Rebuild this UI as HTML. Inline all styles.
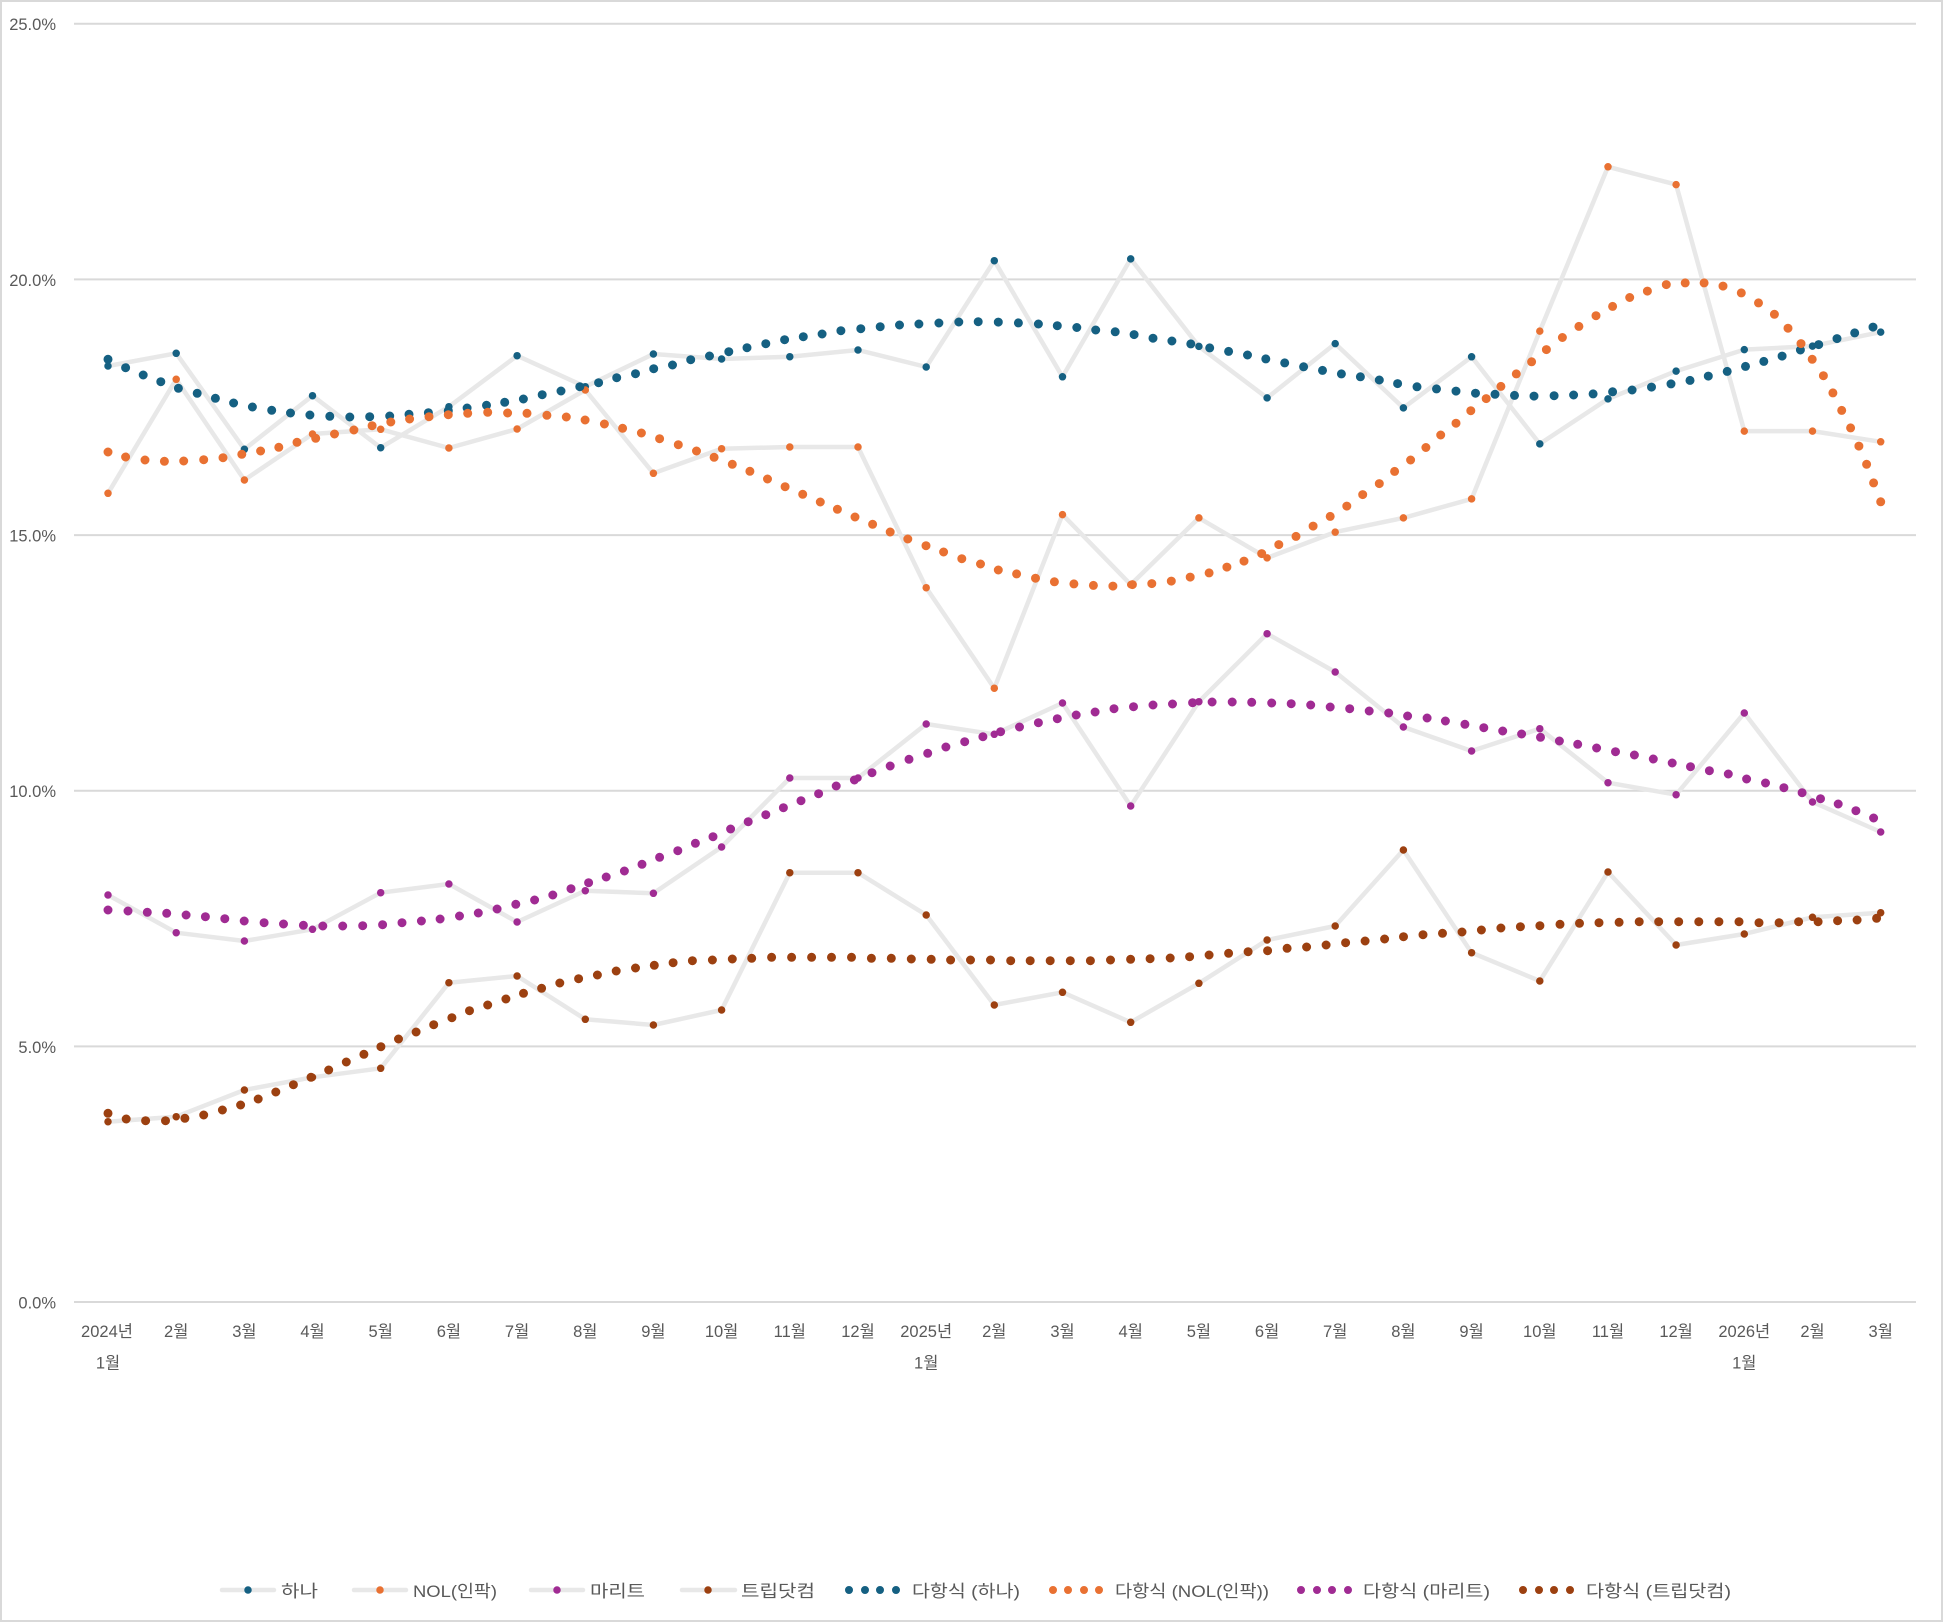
<!DOCTYPE html>
<html><head><meta charset="utf-8">
<style>
html,body{margin:0;padding:0;background:#fff;}
svg{display:block;}
text{font-family:"Liberation Sans","Noto Sans CJK KR",sans-serif;fill:#595959;}
</style></head>
<body>
<svg width="1943" height="1622" viewBox="0 0 1943 1622" xmlns="http://www.w3.org/2000/svg">
<rect x="1" y="1" width="1941" height="1620" fill="#fff" stroke="#d9d9d9" stroke-width="2"/>
<!-- gridlines -->
<g stroke="#d9d9d9" stroke-width="2">
<line x1="74" y1="23.7" x2="1916" y2="23.7"/>
<line x1="74" y1="279.4" x2="1916" y2="279.4"/>
<line x1="74" y1="535.1" x2="1916" y2="535.1"/>
<line x1="74" y1="790.7" x2="1916" y2="790.7"/>
<line x1="74" y1="1046.4" x2="1916" y2="1046.4"/>
<line x1="74" y1="1302" x2="1916" y2="1302"/>
</g>
<!-- y labels -->
<g font-size="16.5" text-anchor="end">
<text x="56" y="30.2">25.0%</text>
<text x="56" y="285.9">20.0%</text>
<text x="56" y="541.6">15.0%</text>
<text x="56" y="797.2">10.0%</text>
<text x="56" y="1052.9">5.0%</text>
<text x="56" y="1308.5">0.0%</text>
</g>
<!-- x labels -->
<g font-size="16.5" text-anchor="middle">
<text x="107" y="1337">2024년</text><text x="108" y="1368.5">1월</text>
<text x="176.2" y="1337">2월</text>
<text x="244.4" y="1337">3월</text>
<text x="312.5" y="1337">4월</text>
<text x="380.7" y="1337">5월</text>
<text x="448.9" y="1337">6월</text>
<text x="517.1" y="1337">7월</text>
<text x="585.3" y="1337">8월</text>
<text x="653.4" y="1337">9월</text>
<text x="721.6" y="1337">10월</text>
<text x="789.8" y="1337">11월</text>
<text x="858" y="1337">12월</text>
<text x="926.2" y="1337">2025년</text><text x="926.2" y="1368.5">1월</text>
<text x="994.3" y="1337">2월</text>
<text x="1062.5" y="1337">3월</text>
<text x="1130.7" y="1337">4월</text>
<text x="1198.9" y="1337">5월</text>
<text x="1267.1" y="1337">6월</text>
<text x="1335.2" y="1337">7월</text>
<text x="1403.4" y="1337">8월</text>
<text x="1471.6" y="1337">9월</text>
<text x="1539.8" y="1337">10월</text>
<text x="1608" y="1337">11월</text>
<text x="1676.1" y="1337">12월</text>
<text x="1744.3" y="1337">2026년</text><text x="1744.3" y="1368.5">1월</text>
<text x="1812.5" y="1337">2월</text>
<text x="1880.7" y="1337">3월</text>
</g>
<!-- gray series lines -->
<g fill="none" stroke="#e8e8e8" stroke-width="4.5" stroke-linejoin="round">
<polyline points="108,366 176.2,353.3 244.4,449.3 312.5,395.7 380.7,447.7 448.9,406.7 517.1,355.7 585.3,386.7 653.4,354 721.6,359 789.8,356.7 858,350 926.2,367 994.3,260.7 1062.5,376.8 1130.7,258.9 1198.9,346.4 1267.1,397.9 1335.2,343.6 1403.4,407.9 1471.6,356.8 1539.8,443.9 1608,398.9 1676.1,371.1 1744.3,349.6 1812.5,346.1 1880.7,332.1"/>
<polyline points="108,493.3 176.2,379.3 244.4,480 312.5,434 380.7,429.3 448.9,448 517.1,429 585.3,390 653.4,473.3 721.6,448.7 789.8,447 858,447 926.2,587.7 994.3,688.2 1062.5,514.6 1130.7,584.6 1198.9,517.9 1267.1,557.9 1335.2,532.1 1403.4,517.9 1471.6,498.9 1539.8,331.1 1608,166.8 1676.1,184.6 1744.3,431.1 1812.5,431.1 1880.7,441.8"/>
<polyline points="108,895 176.2,932.7 244.4,941 312.5,929.3 380.7,892.7 448.9,884 517.1,922 585.3,890.7 653.4,893.3 721.6,847 789.8,778 858,778 926.2,724 994.3,734.3 1062.5,703 1130.7,806 1198.9,701.7 1267.1,633.7 1335.2,672 1403.4,727 1471.6,751 1539.8,728.7 1608,782.7 1676.1,794.7 1744.3,713 1812.5,802 1880.7,832"/>
<polyline points="108,1121.7 176.2,1116.7 244.4,1090 312.5,1077.3 380.7,1068.3 448.9,982.7 517.1,976 585.3,1019.3 653.4,1025 721.6,1010 789.8,872.7 858,872.7 926.2,915 994.3,1005 1062.5,992.3 1130.7,1022.3 1198.9,983.3 1267.1,940 1335.2,926 1403.4,850 1471.6,952.7 1539.8,981 1608,872 1676.1,945 1744.3,934 1812.5,917.3 1880.7,912.7"/>
</g>
<!-- data markers -->
<g fill="none" stroke-linecap="round" stroke-width="7.5">
<path stroke="#156082" d="M108 366h0M176.2 353.3h0M244.4 449.3h0M312.5 395.7h0M380.7 447.7h0M448.9 406.7h0M517.1 355.7h0M585.3 386.7h0M653.4 354h0M721.6 359h0M789.8 356.7h0M858 350h0M926.2 367h0M994.3 260.7h0M1062.5 376.8h0M1130.7 258.9h0M1198.9 346.4h0M1267.1 397.9h0M1335.2 343.6h0M1403.4 407.9h0M1471.6 356.8h0M1539.8 443.9h0M1608 398.9h0M1676.1 371.1h0M1744.3 349.6h0M1812.5 346.1h0M1880.7 332.1h0"/>
<path stroke="#e97132" d="M108 493.3h0M176.2 379.3h0M244.4 480h0M312.5 434h0M380.7 429.3h0M448.9 448h0M517.1 429h0M585.3 390h0M653.4 473.3h0M721.6 448.7h0M789.8 447h0M858 447h0M926.2 587.7h0M994.3 688.2h0M1062.5 514.6h0M1130.7 584.6h0M1198.9 517.9h0M1267.1 557.9h0M1335.2 532.1h0M1403.4 517.9h0M1471.6 498.9h0M1539.8 331.1h0M1608 166.8h0M1676.1 184.6h0M1744.3 431.1h0M1812.5 431.1h0M1880.7 441.8h0"/>
<path stroke="#a02b93" d="M108 895h0M176.2 932.7h0M244.4 941h0M312.5 929.3h0M380.7 892.7h0M448.9 884h0M517.1 922h0M585.3 890.7h0M653.4 893.3h0M721.6 847h0M789.8 778h0M858 778h0M926.2 724h0M994.3 734.3h0M1062.5 703h0M1130.7 806h0M1198.9 701.7h0M1267.1 633.7h0M1335.2 672h0M1403.4 727h0M1471.6 751h0M1539.8 728.7h0M1608 782.7h0M1676.1 794.7h0M1744.3 713h0M1812.5 802h0M1880.7 832h0"/>
<path stroke="#9c4010" d="M108 1121.7h0M176.2 1116.7h0M244.4 1090h0M312.5 1077.3h0M380.7 1068.3h0M448.9 982.7h0M517.1 976h0M585.3 1019.3h0M653.4 1025h0M721.6 1010h0M789.8 872.7h0M858 872.7h0M926.2 915h0M994.3 1005h0M1062.5 992.3h0M1130.7 1022.3h0M1198.9 983.3h0M1267.1 940h0M1335.2 926h0M1403.4 850h0M1471.6 952.7h0M1539.8 981h0M1608 872h0M1676.1 945h0M1744.3 934h0M1812.5 917.3h0M1880.7 912.7h0"/>
</g>
<!-- trendlines (round dots) -->
<g fill="none" stroke-linecap="round" stroke-width="9">
<path stroke="#156082" d="M108 359.3h0M125.6 367.7h0M143.2 375h0M160.8 381.7h0M178.4 388.3h0M197.2 393.3h0M215.4 398.3h0M233.6 403h0M252.4 407h0M271.7 410.3h0M290.5 413h0M309.9 415h0M329.8 416.3h0M349.8 417h0M369.7 416.7h0M389.7 416h0M409 414.3h0M428.4 412.7h0M448.3 410.7h0M467.1 408h0M486.5 405.3h0M504.7 402.3h0M523.4 399h0M542.2 394.7h0M561 391h0M579.8 386.7h0M598.6 382.7h0M616.7 377.7h0M635.5 373.7h0M653.7 368.7h0M672.5 365h0M690.7 359.7h0M709.5 356h0M728.8 351.7h0M747 347.7h0M765.8 343.7h0M784.6 339.7h0M803.3 336.7h0M822.1 334h0M840.9 330.7h0M860.8 328.7h0M880.2 326.7h0M899.5 325h0M918.9 324h0M938.9 323h0M958.8 322h0M978.2 321.7h0M998.3 322.1h0M1018.4 322.9h0M1038.4 324h0M1057.3 325.7h0M1076.8 327.5h0M1095.7 330h0M1115.2 331.8h0M1134.1 334.6h0M1153 338.2h0M1171.9 341h0M1190.8 343.9h0M1209.7 347.9h0M1228.6 351.4h0M1247.5 355h0M1265.8 358.9h0M1284.7 362.9h0M1303.6 366.8h0M1322.5 370.4h0M1341.4 373.9h0M1360.4 376.8h0M1379.3 380h0M1397.6 383.6h0M1417 386.8h0M1436.5 388.9h0M1456 391.1h0M1475.5 393.2h0M1495 394.3h0M1514.5 395.4h0M1534 396.1h0M1554.1 395.7h0M1573.6 395h0M1593.1 393.9h0M1612.6 391.8h0M1632.1 390h0M1651.5 387.1h0M1671 383.9h0M1690 380.4h0M1708.3 376.1h0M1727.2 371.4h0M1745.5 366.4h0M1763.8 361.4h0M1782.1 356.1h0M1800.4 350h0M1818.7 344.6h0M1837 338.6h0M1854.7 332.9h0M1873 327.1h0"/>
<path stroke="#e97132" d="M108 452h0M125.6 457h0M145 460h0M164.4 461.3h0M183.7 461h0M203.7 459.7h0M223 457.7h0M241.8 454.3h0M260.6 451h0M278.8 447.3h0M297 442.3h0M315.7 438.3h0M334.5 434h0M353.9 430h0M372.1 425.7h0M390.8 422h0M409.6 419h0M429 416.7h0M448.3 414.7h0M467.7 413.3h0M487.7 412.3h0M507.6 413h0M527 413.3h0M546.9 415.3h0M566.3 417h0M585.1 420h0M604.4 424h0M622.6 428.3h0M641.4 433h0M659.6 438.7h0M678.3 444.7h0M696.5 451h0M714.1 457.3h0M732.3 464.3h0M749.9 471.3h0M767.5 479h0M785.1 486.7h0M802.7 494.3h0M820.3 502h0M837.4 509.3h0M855 517h0M872.6 524.3h0M890.2 532h0M907.8 539h0M926 545.7h0M943.6 552h0M961.8 558.7h0M980.5 564h0M998.3 570h0M1016.6 573.9h0M1035.5 578.2h0M1054.4 581.8h0M1073.9 583.9h0M1093.4 585.4h0M1112.9 586.1h0M1132.4 584.6h0M1151.8 583.6h0M1171.3 581.1h0M1190.2 577.1h0M1209.1 572.9h0M1226.9 567.1h0M1244 561.1h0M1261.7 553.6h0M1278.8 544.6h0M1296 536.4h0M1313.1 526.1h0M1330.2 516.4h0M1346.8 506.1h0M1362.7 494.6h0M1379.3 483.6h0M1394.6 471.4h0M1410.6 460h0M1425.9 447.5h0M1440.7 435h0M1456 423.2h0M1470.8 410.7h0M1486.2 398.6h0M1500.9 386.4h0M1516.3 373.9h0M1531.6 361.8h0M1546.4 349.6h0M1562.4 337.5h0M1578.9 326.4h0M1596 315.7h0M1612.6 306.4h0M1629.7 297.5h0M1647.4 291.1h0M1666.3 284.6h0M1685.2 282.9h0M1704.1 282.9h0M1723 286.1h0M1741.3 292.9h0M1758.5 302.9h0M1774.4 314.3h0M1788 328.2h0M1801 343.6h0M1812.2 359.3h0M1823.4 375.7h0M1832.9 392.9h0M1841.7 410.4h0M1850.6 427.9h0M1858.9 446.1h0M1866.6 464.3h0M1873.6 482.9h0M1880.7 501.8h0"/>
<path stroke="#a02b93" d="M108 910h0M128 911h0M147.3 912.3h0M166.7 913.3h0M186.1 915h0M205.4 916.7h0M224.8 918.7h0M244.2 921h0M264.1 922.7h0M283.5 924h0M303.4 925.3h0M322.8 926h0M342.7 926h0M362.7 925.7h0M382.6 924.7h0M402 922.7h0M421.4 921h0M440.1 919h0M459.5 916h0M478.3 913h0M497.1 909h0M515.8 904.3h0M534.6 900h0M552.8 895h0M571 888.7h0M588.6 882.7h0M606.2 877h0M624.4 871h0M642 864.3h0M659.6 857.3h0M677.8 850.7h0M695.4 843.3h0M713 836.7h0M730.6 829h0M748.2 821.7h0M765.8 814.7h0M783.4 807.7h0M801 800.7h0M818.6 793.7h0M836.2 786h0M854.4 780h0M872 772.7h0M890.2 766h0M909 759.3h0M927.7 753.3h0M945.9 747h0M964.7 741.7h0M982.9 736.7h0M1000.6 731.7h0M1019.5 727h0M1038.4 722.7h0M1057.3 718.7h0M1076.2 715h0M1095.1 712h0M1114 708.7h0M1133.5 706.7h0M1153 705h0M1172.5 704h0M1192.6 702.7h0M1212.1 702h0M1232.2 702h0M1251.7 702.3h0M1271.7 703h0M1291.2 703.7h0M1310.7 705h0M1330.2 707h0M1349.7 708.7h0M1369.2 711h0M1388.7 713h0M1407.6 716h0M1427.1 718h0M1445.4 721h0M1464.9 724.3h0M1483.8 727.7h0M1502.7 731h0M1521.6 734h0M1540.5 737.3h0M1559.4 741h0M1577.7 744.3h0M1596.6 748h0M1615.5 751.7h0M1634.4 755h0M1653.3 759h0M1672.2 763h0M1690.5 766.7h0M1709.4 770.7h0M1728.3 774h0M1746.6 779h0M1765.5 783h0M1783.9 787.7h0M1802.1 792.7h0M1820.5 798.7h0M1838.2 804h0M1855.9 810.7h0M1873.6 818h0"/>
<path stroke="#9c4010" d="M108 1113.3h0M126.2 1119h0M145.6 1120.7h0M165.5 1120.7h0M184.9 1118.3h0M203.7 1115h0M222.4 1110h0M240.6 1105h0M258.2 1099h0M275.8 1092h0M293.4 1084.7h0M311 1077.3h0M328.7 1070h0M346.3 1062h0M363.9 1054.3h0M380.9 1046.7h0M398.5 1039h0M416.1 1032h0M433.7 1024.7h0M451.9 1017.7h0M469.5 1010.7h0M487.7 1005h0M505.9 999h0M523.5 993.3h0M541.6 988.3h0M559.8 983h0M578.6 978.7h0M597.4 975h0M616.2 971h0M635.5 968h0M654.3 965.3h0M673.1 962.7h0M692.4 960.7h0M712.4 960h0M732.3 959h0M751.7 958.3h0M771.6 957.3h0M791.6 957.3h0M811.6 957.3h0M831.5 957.3h0M851.5 957.3h0M871.4 958.3h0M891.3 958.3h0M911.3 959h0M931.2 959.3h0M950.6 960h0M970.5 960h0M990.5 960h0M1010.7 960.7h0M1030.2 960.7h0M1050.2 960.7h0M1070.3 960.7h0M1090.4 960.7h0M1110.5 960h0M1130.6 959.3h0M1150.1 958.7h0M1170.2 958h0M1189.6 956.7h0M1209.1 955h0M1228.6 953.3h0M1248.1 951.7h0M1267.6 950.7h0M1287.1 948.3h0M1306.6 947h0M1326.1 945h0M1345.6 942.7h0M1365.1 941h0M1384.6 939h0M1403.5 936.7h0M1423 934.7h0M1442.5 933.3h0M1462 932h0M1481.4 930h0M1500.9 928h0M1520.4 926.7h0M1539.9 925.7h0M1560 924.3h0M1579.5 923.3h0M1599 922.7h0M1619.1 922.3h0M1639.2 921.7h0M1658.7 921.7h0M1678.7 921.7h0M1698.8 921.7h0M1718.9 921.7h0M1739 921.7h0M1759 922.7h0M1779.1 922.7h0M1798.6 921.7h0M1818.1 921.7h0M1837.6 920.7h0M1857.1 920h0M1876.6 918.3h0"/>
</g>
<!-- legend -->
<g stroke="#e8e8e8" stroke-width="4.5" stroke-linecap="round">
<line x1="222" y1="1590" x2="274" y2="1590"/>
<line x1="354" y1="1590" x2="406" y2="1590"/>
<line x1="531" y1="1590" x2="583" y2="1590"/>
<line x1="682" y1="1590" x2="735" y2="1590"/>
</g>
<g fill="none" stroke-linecap="round">
<path stroke="#156082" stroke-width="7.5" d="M248 1590h0"/>
<path stroke="#e97132" stroke-width="7.5" d="M380 1590h0"/>
<path stroke="#a02b93" stroke-width="7.5" d="M557 1590h0"/>
<path stroke="#9c4010" stroke-width="7.5" d="M708 1590h0"/>
<path stroke="#156082" stroke-width="8" d="M849 1590h0M865 1590h0M880 1590h0M896 1590h0"/>
<path stroke="#e97132" stroke-width="8" d="M1053 1590h0M1068 1590h0M1084 1590h0M1099 1590h0"/>
<path stroke="#a02b93" stroke-width="8" d="M1301 1590h0M1317 1590h0M1332 1590h0M1348 1590h0"/>
<path stroke="#9c4010" stroke-width="8" d="M1523 1590h0M1539 1590h0M1554 1590h0M1570 1590h0"/>
</g>
<g font-size="17">
<text x="281" y="1597" textLength="37" lengthAdjust="spacingAndGlyphs">하나</text>
<text x="413" y="1597" textLength="84" lengthAdjust="spacingAndGlyphs">NOL(인팍)</text>
<text x="590" y="1597" textLength="55" lengthAdjust="spacingAndGlyphs">마리트</text>
<text x="741" y="1597" textLength="74" lengthAdjust="spacingAndGlyphs">트립닷컴</text>
<text x="912" y="1597" textLength="108" lengthAdjust="spacingAndGlyphs">다항식 (하나)</text>
<text x="1115" y="1597" textLength="154" lengthAdjust="spacingAndGlyphs">다항식 (NOL(인팍))</text>
<text x="1363" y="1597" textLength="127" lengthAdjust="spacingAndGlyphs">다항식 (마리트)</text>
<text x="1586" y="1597" textLength="145" lengthAdjust="spacingAndGlyphs">다항식 (트립닷컴)</text>
</g>
</svg>
</body></html>
